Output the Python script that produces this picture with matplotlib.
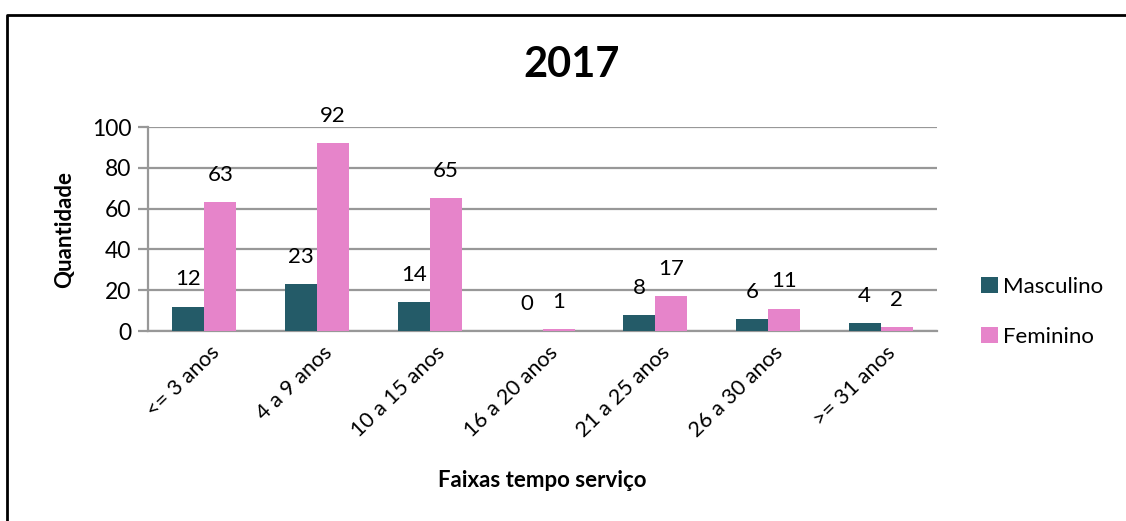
import numpy as np
import matplotlib.pyplot as plt
from matplotlib.lines import Line2D
from matplotlib.transforms import ScaledTranslation

# data
categories = ['<= 3 anos', '4 a 9 anos', '10 a 15 anos', '16 a 20 anos',
              '21 a 25 anos', '26 a 30 anos', '>= 31 anos']
masculino = [12, 23, 14, 0, 8, 6, 4]
feminino = [63, 92, 65, 1, 17, 11, 2]
yticks = [0, 20, 40, 60, 80, 100]

plt.rcParams['font.family'] = ['Lato', 'DejaVu Sans']

c_masc = '#245B68'
c_fem = '#E684CA'
grid_c = '#989898'

fig = plt.figure(figsize=(11.26, 5.21), dpi=100)
ax = fig.add_axes([148 / 1126, 1 - 331 / 521, 789 / 1126, 204 / 521])

x = np.arange(len(categories))
w = 0.285
b1 = ax.bar(x - w / 2, masculino, w, color=c_masc, label='Masculino', zorder=3)
b2 = ax.bar(x + w / 2, feminino, w, color=c_fem, label='Feminino', zorder=3)

# data labels above bars (Excel outside end)
for bars, vals in ((b1, masculino), (b2, feminino)):
    for r, v in zip(bars, vals):
        ax.annotate(str(v), (r.get_x() + r.get_width() / 2, r.get_height()),
                    xytext=(0, 19.5), textcoords='offset points',
                    ha='center', va='center', fontsize=16, color='black')

ax.set_xlim(-0.5, len(categories) - 0.5)
ax.set_ylim(0, 100)
ax.set_yticks(yticks)
ax.yaxis.grid(True, color=grid_c, linewidth=1.6, zorder=0)
ax.set_axisbelow(True)

for s in ('top', 'right'):
    ax.spines[s].set_visible(False)
ax.spines['left'].set_color(grid_c)
ax.spines['left'].set_linewidth(1.6)
ax.spines['bottom'].set_color(grid_c)
ax.spines['bottom'].set_linewidth(1.6)

ax.tick_params(axis='y', length=7, width=1.6, color=grid_c, labelsize=16.5, pad=5)
ax.tick_params(axis='x', length=0, labelsize=15.5, pad=8)
ax.set_xticks(x)
ax.set_xticklabels(categories, rotation=44, ha='right', rotation_mode='anchor')
for lbl in ax.get_xticklabels():
    lbl.set_transform(lbl.get_transform() + ScaledTranslation(0.05, 0, fig.dpi_scale_trans))

ax.set_ylabel('Quantidade', fontsize=16, fontweight='bold', labelpad=12)
ax.set_xlabel('Faixas tempo serviço', fontsize=16, fontweight='bold', labelpad=21)
fig.text(572 / 1126, 1 - 65 / 521, '2017', fontsize=30, fontweight='bold',
         ha='center', va='center')

ax.legend(loc='center left', bbox_to_anchor=(972 / 1126, 1 - 312 / 521),
          bbox_transform=fig.transFigure, frameon=False, fontsize=16,
          handlelength=0.75, handleheight=0.75, handletextpad=0.25,
          labelspacing=1.35, borderaxespad=0)

# chart frame (left and top edges visible)
fig.add_artist(Line2D([7.5 / 1126, 7.5 / 1126, 1.0], [0, 1 - 14.5 / 521, 1 - 14.5 / 521],
                      transform=fig.transFigure, color='black', linewidth=2))

fig.savefig('out.png', dpi=100)
